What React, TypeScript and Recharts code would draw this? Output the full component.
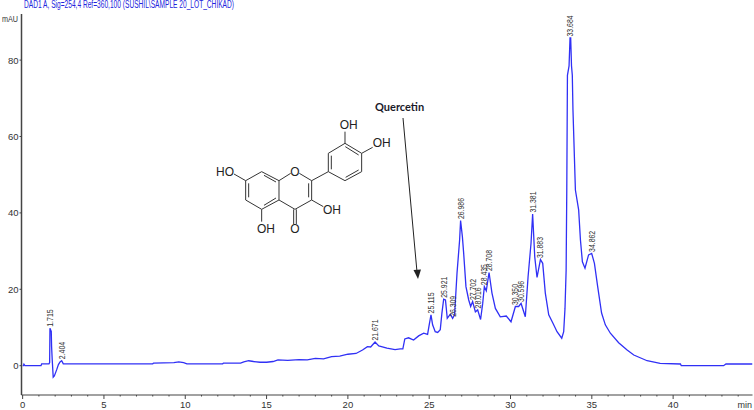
import { ComposedChart, Line, Scatter, XAxis, YAxis } from "recharts";

// Retention time (min) and absorbance (mAU)
const retentionTimes = [
  0, 0.05, 0.08, 0.14, 1.13, 1.17, 1.62, 1.66, 1.68, 1.76, 1.78, 1.82, 1.88, 1.95, 2.09, 2.2, 2.3, 2.4, 2.5,
  8, 8.05, 9.3, 9.6, 9.9, 10.1, 12.3, 12.35, 13.4, 13.6, 13.9, 14.2, 14.6, 15, 15.4, 15.7, 16.3, 17, 17.5, 18,
  18.5, 19, 19.5, 20, 20.5, 20.9, 21.2, 21.4, 21.67, 21.9, 22.4, 22.9, 23.22, 23.38, 23.5, 23.73, 24.04, 24.35,
  24.66, 24.9, 25, 25.11, 25.21, 25.37, 25.52, 25.68, 25.78, 25.89, 26, 26.11, 26.3, 26.44, 26.56, 26.71, 26.87,
  26.93, 27.04, 27.12, 27.26, 27.43, 27.55, 27.67, 27.84, 27.98, 28.16, 28.29, 28.39, 28.51, 28.68, 28.86, 29.07,
  29.37, 29.74, 30.03, 30.3, 30.5, 30.65, 30.91, 31.08, 31.26, 31.36, 31.49, 31.63, 31.84, 31.98, 32.14, 32.35,
  32.61, 32.86, 33.15, 33.27, 33.35, 33.42, 33.46, 33.5, 33.6, 33.66, 33.7, 33.75, 33.8, 33.84, 33.99, 34.19, 34.3, 34.42,
  34.58, 34.8, 34.99, 35.16, 35.36, 35.6, 35.83, 36.14, 36.65, 37.17, 37.58, 38.4, 39.2, 40.45, 40.5, 43.1, 43.25,
  44.88,
];
const absorbance = [
  0, 0, 0.4, 0, 0, 0.5, 0.5, 0.8, 9.8, 9, 5, 1.5, -3, -2.7, -1.1, 0.3, 1, 1.3, 0.5,
  0.5, 0.7, 0.8, 1, 0.8, 0.5, 0.5, 0.7, 0.7, 1, 1.3, 1.1, 0.9, 0.9, 1.1, 1.5, 1.4, 1.6, 1.5, 1.9,
  1.8, 2.4, 2.5, 3, 3.2, 4.1, 5, 4.9, 6.2, 5.2, 4.6, 4.2, 4.4, 4.4, 7, 7.3, 6.7, 7.8,
  8.5, 8.2, 10.7, 13.3, 10.7, 8.9, 8.7, 9.4, 13.7, 17.4, 17.2, 12.4, 13.5, 12.4, 13.3, 24.2, 32.9,
  38, 33.8, 29.4, 20.7, 17.2, 15.5, 16.8, 14.1, 14.6, 12.1, 16.3, 20.7, 19.6, 24.4, 19, 15,
  12.8, 13, 11.5, 15.5, 15.5, 16.3, 12.8, 23.3, 32, 39.7, 28.5, 23.1, 27.8, 26.8, 19, 13.3,
  11.1, 8.9, 7.2, 8.9, 15, 25, 46, 76, 78.5, 85.8, 85.8, 78.5, 76, 67, 46, 40.8, 32.9, 27.2,
  25.5, 29, 29.4, 26.8, 20.7, 13.8, 10.7, 8.5, 6, 4.1, 2.8, 1.3, 0.6, 0.45, 0, 0, 0.45,
  0.45,
];

const peakTimes = [1.68, 2.4, 21.67, 25.11, 25.89, 26.44, 26.93, 27.67, 27.98, 28.39, 28.68, 30.3, 30.65, 31.36, 31.84, 33.68, 34.99];
const peakValues = [9.8, 1.3, 6.2, 13.3, 17.4, 12.4, 38, 16.8, 14.6, 20.7, 24.4, 15.5, 16.3, 39.7, 27.8, 85.8, 29.4];
const peakLabels = ["1.715", "2.404", "21.671", "25.115", "25.921", "26.309", "26.986", "27.702", "28.016", "28.435", "28.708", "30.350", "30.596", "31.381", "31.883", "33.684", "34.862"];

const xTicks = Array.from({ length: 45 }, (_, i) => i);
const yTicks = [0, 20, 40, 60, 80];

const traceData = retentionTimes.map((time, i) => ({ time, value: absorbance[i] }));
const peakData = peakTimes.map((time, i) => ({ time, value: peakValues[i], name: peakLabels[i] }));

const TRACE = "#3030f5";
const AXIS = "#444444";
const FONT = "'Liberation Sans', Arial, sans-serif";

const XTick = ({ x, y, payload }: any) => {
  const major = payload.value % 5 === 0;
  return (
    <g>
      <line x1={x} x2={x} y1={y} y2={y + (major ? 4 : 1.5)} stroke={AXIS} strokeWidth={1} />
      {major && (
        <text x={x} y={y + 13} textAnchor="middle" fontSize={9.5} fontFamily={FONT} fill="#333">
          {payload.value}
        </text>
      )}
    </g>
  );
};

const YTick = ({ x, y, payload }: any) => (
  <g>
    <line x1={x - 2} x2={x} y1={y} y2={y} stroke={AXIS} strokeWidth={1} />
    <text x={x - 3} y={y + 3.5} textAnchor="end" fontSize={9.5} fontFamily={FONT} fill="#333">
      {payload.value}
    </text>
  </g>
);

const PeakLabel = ({ cx, cy, payload }: any) => (
  <text
    transform={`translate(${cx + 3},${cy - 1.5}) rotate(-90)`}
    fontSize={9}
    textLength={payload.name.length * 3.5}
    lengthAdjust="spacingAndGlyphs"
    fontFamily={FONT}
    fill="#333"
  >
    {payload.name}
  </text>
);

// Quercetin structure, drawn at 3x and scaled down
const bonds = [
  [185, 245, 237, 272], [237, 272, 237, 330], [237, 330, 185, 358], [185, 358, 137, 330], [137, 330, 137, 272], [137, 272, 185, 245],
  [192, 256, 228, 276], [228, 324, 192, 346], [146, 322, 146, 280],
  [237, 272, 272, 250], [298, 250, 335, 272], [335, 272, 335, 330], [335, 330, 285, 358], [285, 358, 237, 330], [326, 280, 326, 322],
  [281, 358, 281, 402], [289, 358, 289, 402],
  [335, 272, 385, 245], [385, 245, 385, 190], [385, 190, 435, 160], [435, 160, 485, 190], [485, 190, 485, 245], [485, 245, 435, 272], [435, 272, 385, 245],
  [394, 238, 394, 197], [436, 170, 476, 195], [476, 240, 437, 262],
  [435, 160, 435, 125], [485, 190, 518, 172], [137, 272, 102, 252], [335, 330, 370, 350], [185, 358, 185, 395],
];
const atoms = [
  { text: "O", x: 285, y: 257 },
  { text: "O", x: 285, y: 429 },
  { text: "OH", x: 446, y: 116 },
  { text: "OH", x: 545, y: 172 },
  { text: "HO", x: 75, y: 257 },
  { text: "OH", x: 396, y: 372 },
  { text: "OH", x: 198, y: 429 },
];

const Annotations = () => (
  <svg width={754} height={410} style={{ position: "absolute", left: 0, top: 0, pointerEvents: "none" }}>
    <text x={24} y={8} fontSize={10} textLength={210} lengthAdjust="spacingAndGlyphs" fontFamily={FONT} fill="#2222dd">
      DAD1 A, Sig=254,4 Ref=360,100 (SUSHIL\SAMPLE 20_LOT_CHIKAD)
    </text>
    <text x={2} y={22} fontSize={9} textLength={16} lengthAdjust="spacingAndGlyphs" fontFamily={FONT} fill="#333">mAU</text>
    <text x={752} y={408} textAnchor="end" fontSize={9} fontFamily={FONT} fill="#333">min</text>
    <text x={375} y={111} fontSize={11} fontWeight="bold" fontFamily="Lato, sans-serif" fill="#1a1a2a">Quercetin</text>
    <line x1={403} y1={118} x2={417} y2={272} stroke="#222" strokeWidth={1} />
    <path d="M413.5 270 L421 269.5 L418 279 Z" fill="#222" />
    <g transform="translate(200,90) scale(0.3333)">
      {bonds.map((b, i) => (
        <line key={i} x1={b[0]} y1={b[1]} x2={b[2]} y2={b[3]} stroke="#333" strokeWidth={3} />
      ))}
      {atoms.map((a, i) => (
        <text key={i} x={a.x} y={a.y} textAnchor="middle" fontSize={36} fontFamily={FONT} fill="#222">
          {a.text}
        </text>
      ))}
    </g>
  </svg>
);

export default function App() {
  return (
    <div style={{ position: "absolute", left: 0, top: 0, width: 754, height: 410, background: "#fff" }}>
      <ComposedChart width={754} height={410} margin={{ top: 14, right: 1.5, bottom: 0, left: 0 }}>
        <XAxis
          type="number"
          dataKey="time"
          domain={[-0.07, 44.88]}
          ticks={xTicks}
          interval={0}
          height={15}
          axisLine={{ stroke: AXIS, strokeWidth: 1.2 }}
          tickLine={false}
          tickSize={0}
          tickMargin={0}
          tick={<XTick />}
          allowDataOverflow
        />
        <YAxis
          type="number"
          dataKey="value"
          domain={[-7.67, 92.07]}
          ticks={yTicks}
          interval={0}
          width={21.5}
          axisLine={{ stroke: AXIS, strokeWidth: 1.5 }}
          tickLine={false}
          tickSize={0}
          tickMargin={0}
          tick={<YTick />}
          allowDataOverflow
        />
        <Line
          data={traceData}
          dataKey="value"
          type="linear"
          stroke={TRACE}
          strokeWidth={1.3}
          dot={false}
          activeDot={false}
          isAnimationActive={false}
        />
        <Scatter data={peakData} dataKey="value" shape={<PeakLabel />} isAnimationActive={false} />
      </ComposedChart>
      <Annotations />
    </div>
  );
}
